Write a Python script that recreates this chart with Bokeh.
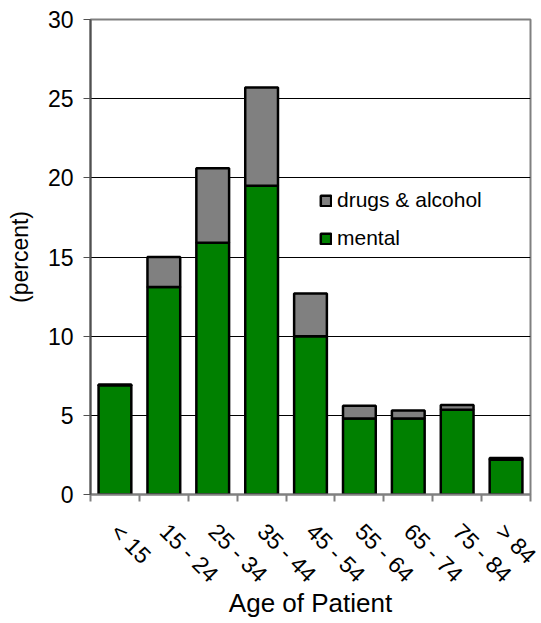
import math
from bokeh.plotting import figure
from bokeh.models import ColumnDataSource, FixedTicker, Legend, LegendItem, Range1d
from bokeh.embed import file_html
from bokeh.resources import INLINE

age_groups = ["< 15", "15 - 24", "25 - 34", "35 - 44", "45 - 54", "55 - 64", "65 - 74", "75 - 84", "> 84"]
mental = [6.9, 13.1, 15.9, 19.5, 10.0, 4.8, 4.8, 5.35, 2.2]
drugs_alcohol = [0.05, 1.9, 4.7, 6.2, 2.7, 0.8, 0.5, 0.3, 0.1]
y_ticks = [0, 5, 10, 15, 20, 25, 30]

FONT = "Liberation Sans"
n = len(age_groups)
xpos = [i + 0.5 for i in range(n)]

src = ColumnDataSource(dict(x=xpos, mental=mental, drugs=drugs_alcohol))

p = figure(width=541, height=623, output_backend="svg", toolbar_location=None,
           x_range=Range1d(0, n), y_range=Range1d(0, 30),
           min_border_left=90, min_border_top=19, min_border_right=11, min_border_bottom=129)

r = p.vbar_stack(["mental", "drugs"], x="x", width=0.67, source=src,
                 fill_color=["#008000", "#808080"], line_color="black", line_width=2.5)

legend = Legend(items=[LegendItem(label="drugs & alcohol", renderers=[r[1]]),
                       LegendItem(label="mental", renderers=[r[0]])],
                location=(229, 244), border_line_color=None, background_fill_alpha=0,
                label_text_font=FONT, label_text_font_size="21px", label_text_color="black",
                glyph_width=13, glyph_height=13, spacing=14, padding=4, label_standoff=5)
p.add_layout(legend)

# y axis
p.yaxis.ticker = FixedTicker(ticks=y_ticks)
p.yaxis.axis_line_color = "#505050"
p.yaxis.axis_line_width = 2
p.yaxis.major_tick_line_color = "#505050"
p.yaxis.major_tick_out = 7
p.yaxis.major_tick_in = 0
p.yaxis.minor_tick_line_color = None
p.yaxis.major_label_text_font = FONT
p.yaxis.major_label_text_font_size = "23px"
p.yaxis.major_label_text_color = "black"
p.yaxis.major_label_standoff = 10
p.yaxis.axis_label = "(percent)"
p.yaxis.axis_label_text_font = FONT
p.yaxis.axis_label_text_font_size = "23px"
p.yaxis.axis_label_text_font_style = "normal"
p.yaxis.axis_label_text_color = "black"
p.yaxis.axis_label_standoff = 12

# x axis
p.xaxis.ticker = FixedTicker(ticks=xpos, minor_ticks=list(range(n + 1)))
p.xaxis.major_label_overrides = {x: lab for x, lab in zip(xpos, age_groups)}
p.xaxis.major_label_orientation = -math.pi / 4
p.xaxis.major_tick_line_color = None
p.xaxis.minor_tick_line_color = "#808080"
p.xaxis.minor_tick_out = 7
p.xaxis.minor_tick_in = 0
p.xaxis.minor_tick_line_width = 2
p.xaxis.axis_line_color = "#808080"
p.xaxis.axis_line_width = 2
p.xaxis.major_label_text_font = FONT
p.xaxis.major_label_text_font_size = "23px"
p.xaxis.major_label_text_color = "black"
p.xaxis.major_label_standoff = 26
p.xaxis.axis_label = "Age of Patient"
p.xaxis.axis_label_text_font = FONT
p.xaxis.axis_label_text_font_size = "26px"
p.xaxis.axis_label_text_font_style = "normal"
p.xaxis.axis_label_text_color = "black"
p.xaxis.axis_label_standoff = -12

# grid
p.xgrid.grid_line_color = None
p.ygrid.ticker = FixedTicker(ticks=[5, 10, 15, 20, 25])
p.ygrid.grid_line_color = "black"
p.ygrid.grid_line_width = 1

p.outline_line_color = "#808080"
p.outline_line_width = 2
p.background_fill_color = "white"

open("out.html", "w").write(file_html(p, INLINE))
